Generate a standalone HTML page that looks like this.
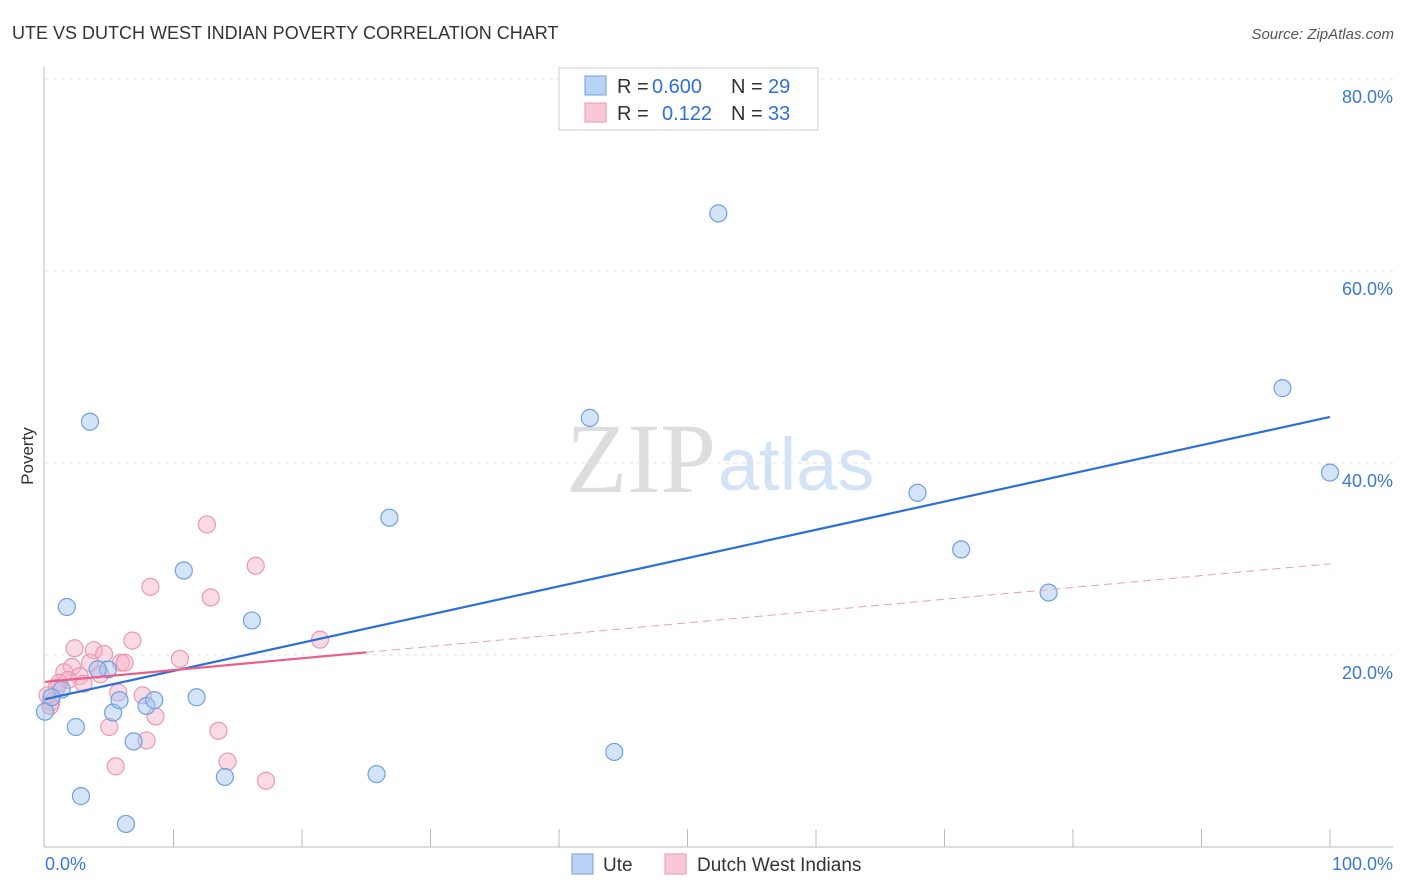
<!DOCTYPE html>
<html><head><meta charset="utf-8"><style>
body{margin:0;background:#fff;font-family:"Liberation Sans",sans-serif}
svg{display:block}
</style></head><body>
<svg id="c" width="1406" height="892">
<text x="12" y="39" font-size="18" fill="#333">UTE VS DUTCH WEST INDIAN POVERTY CORRELATION CHART</text>
<text x="1394" y="39" font-size="15" fill="#555" font-style="italic" text-anchor="end">Source: ZipAtlas.com</text>
<text x="716" y="492" font-size="100" fill="#ddd" text-anchor="end" font-family="Liberation Serif,serif">ZIP</text>
<text x="718" y="490" font-size="74" fill="#d3e2f5">atlas</text>
<text x="33" y="456" font-size="17" fill="#333" transform="rotate(-90 33 456)" text-anchor="middle">Poverty</text>
<g id="grid"></g><g id="marks"></g>
<g font-size="20">
<rect x="559" y="68" width="259" height="62" fill="#fff" stroke="#ccc"/>
<rect x="585" y="76" width="21" height="19" fill="#b9d3f5" stroke="#6fa0e0"/>
<rect x="585" y="103" width="21" height="19" fill="#f9c8d6" stroke="#e89ab0"/>
<text x="617" y="93" fill="#333">R =</text><text x="652" y="93" fill="#2f6fd6">0.600</text>
<text x="731" y="93" fill="#333">N =</text><text x="768" y="93" fill="#2f6fd6">29</text>
<text x="617" y="120" fill="#333">R =</text><text x="662" y="120" fill="#2f6fd6">0.122</text>
<text x="731" y="120" fill="#333">N =</text><text x="768" y="120" fill="#2f6fd6">33</text>
</g>
<g>
<rect x="572" y="854" width="21" height="20" fill="#b9d3f5" stroke="#6fa0e0"/>
<text x="603" y="871" font-size="19" fill="#333">Ute</text>
<rect x="665" y="854" width="21" height="20" fill="#f9c8d6" stroke="#e89ab0"/>
<text x="697" y="871" font-size="19" fill="#333">Dutch West Indians</text>
</g>
</svg>
<script>
const yTicks=[20,40,60,80];
const xTickLabels=["0.0%","100.0%"];
const uteX=[3.5,1.7,10.8,16.1,26.8,42.4,52.4,67.9,71.3,78.1,96.3,100,44.3,25.8,14.0,6.3,2.8,2.4,6.9,5.3,5.8,7.9,8.5,11.8,4.9,4.1,1.3,0.5,0];
const uteY=[44.3,25.0,28.8,23.6,34.3,44.7,66.0,36.9,31.0,26.5,47.8,39.0,9.9,7.6,7.3,2.4,5.3,12.5,11.0,14.0,15.3,14.7,15.3,15.6,18.5,18.5,16.4,15.6,14.1];
const dwiX=[12.6,16.4,8.2,12.9,21.4,6.8,2.3,3.8,4.6,10.5,5.9,6.2,3.5,2.1,1.5,2.7,1.8,1.1,3.0,4.3,5.7,7.6,8.6,5.0,13.5,7.9,14.2,5.5,17.2,0.5,0.4,0.9,0.2];
const dwiY=[33.6,29.3,27.1,26.0,21.6,21.5,20.7,20.5,20.1,19.6,19.2,19.2,19.2,18.75,18.2,17.8,17.4,17.1,17.0,18.0,16.1,15.8,13.6,12.5,12.1,11.1,8.9,8.4,6.9,15.1,14.7,16.6,15.8];
const uteTrend=[15.4,44.8];
const dwiTrend=[17.2,29.5];
const NS="http://www.w3.org/2000/svg";
const X=v=>45+v*12.85, Y=v=>847-v*9.6;
function mk(p,t,a){const e=document.createElementNS(NS,t);for(const k in a)e.setAttribute(k,a[k]);p.appendChild(e);return e;}
const g=document.getElementById('grid'), m=document.getElementById('marks');
let e=mk(g,'line',{x1:45,x2:1393,y1:79,y2:79,stroke:'#e3e3e3','stroke-dasharray':'4,4'});


yTicks.forEach(t=>{
 let l=mk(g,'line',{x1:45,x2:1393,y1:Y(t),y2:Y(t),stroke:'#e3e3e3','stroke-dasharray':'4,4'});
 
 
 let tx=mk(g,'text',{x:1393,y:Y(t)+24,'font-size':18,fill:'#3a78d6','text-anchor':'end'});tx.textContent=t.toFixed(1)+'%';
 
 
});
e=mk(g,'line',{x1:44,x2:44,y1:67,y2:847,stroke:'#bbb'});


e=mk(g,'line',{x1:44,x2:1393,y1:847,y2:847,stroke:'#bbb'});


for(let i=1;i<=10;i++){let t=mk(g,'line',{x1:X(i*10),x2:X(i*10),y1:829,y2:847,stroke:'#bbb'});
 
 }
let a=mk(g,'text',{x:45,y:870,'font-size':18,fill:'#3a78d6'});a.textContent=xTickLabels[0];


a=mk(g,'text',{x:1393,y:870,'font-size':18,fill:'#3a78d6','text-anchor':'end'});a.textContent=xTickLabels[1];


dwiX.forEach((x,i)=>{let c=mk(m,'circle',{cx:X(x),cy:Y(dwiY[i]),r:8.5,fill:'rgba(245,175,198,0.45)',stroke:'#e89ab0','stroke-width':1.2});
 
 });
uteX.forEach((x,i)=>{let c=mk(m,'circle',{cx:X(x),cy:Y(uteY[i]),r:8.5,fill:'rgba(160,195,240,0.45)',stroke:'#6fa0e0','stroke-width':1.2});
 
 });
let tl=mk(m,'line',{x1:X(0),y1:Y(uteTrend[0]),x2:X(100),y2:Y(uteTrend[1]),stroke:'#2b6fd8','stroke-width':2.2});


const dAt=v=>dwiTrend[0]+(dwiTrend[1]-dwiTrend[0])*v/100;
tl=mk(m,'line',{x1:X(0),y1:Y(dAt(0)),x2:X(25),y2:Y(dAt(25)),stroke:'#e8608a','stroke-width':2.2});


tl=mk(m,'line',{x1:X(25),y1:Y(dAt(25)),x2:X(100),y2:Y(dAt(100)),stroke:'#e8a0b5','stroke-width':1,'stroke-dasharray':'8,5'});


</script>
</body></html>
